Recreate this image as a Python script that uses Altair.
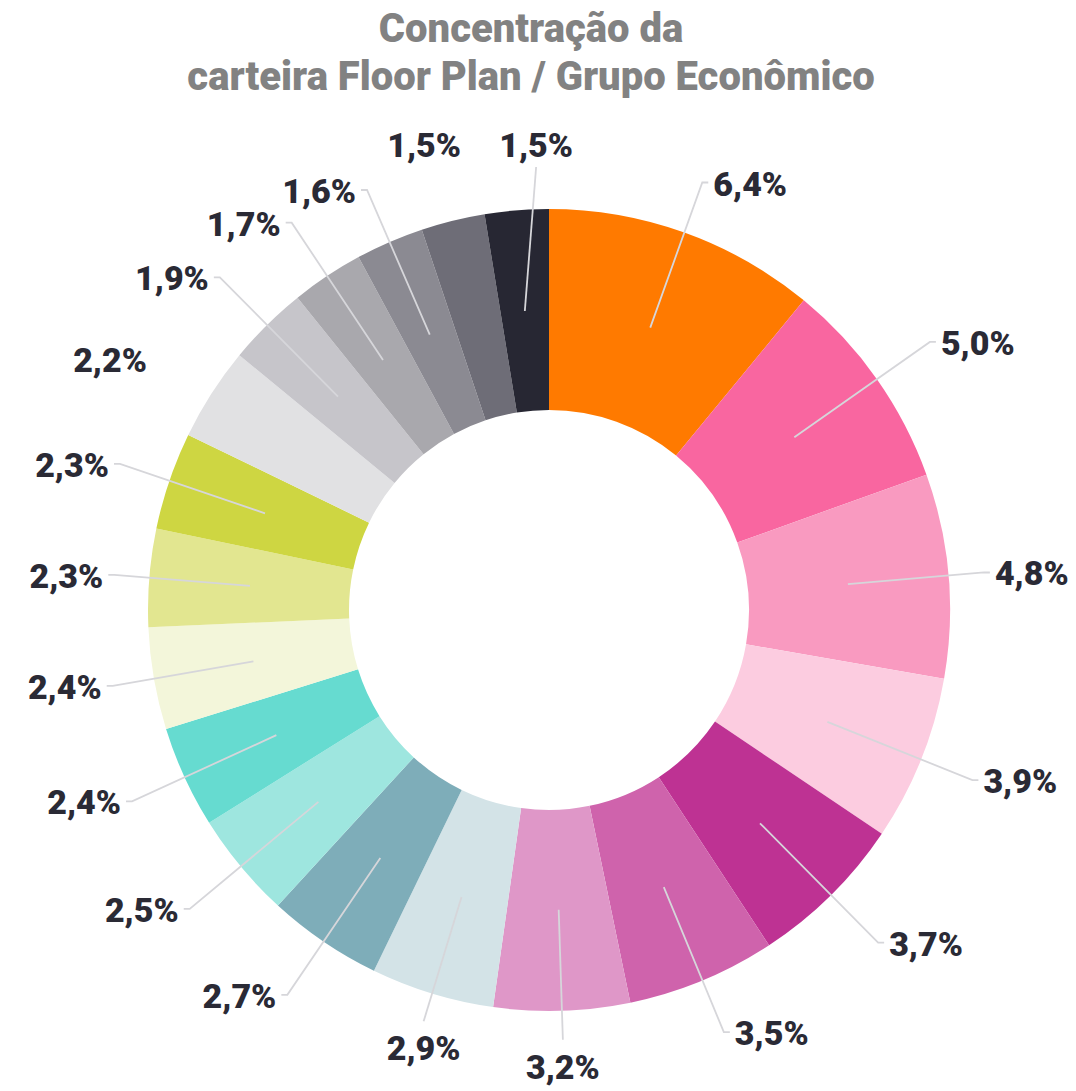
import numpy as np
import pandas as pd
import altair as alt

# ---------------- data ----------------
title_lines = ["Concentração da", "carteira Floor Plan / Grupo Econômico"]
values = [6.4, 5.0, 4.8, 3.9, 3.7, 3.5, 3.2, 2.9, 2.7, 2.5,
          2.4, 2.4, 2.3, 2.3, 2.2, 1.9, 1.7, 1.6, 1.5, 1.5]
labels = ["6,4%", "5,0%", "4,8%", "3,9%", "3,7%", "3,5%", "3,2%", "2,9%", "2,7%", "2,5%",
          "2,4%", "2,4%", "2,3%", "2,3%", "2,2%", "1,9%", "1,7%", "1,6%", "1,5%", "1,5%"]
colors = ["#FF7A00", "#F966A0", "#F99AC0", "#FCCCE0", "#BE3293", "#CF63AC", "#DF97C8",
          "#D3E3E7", "#7EADB9", "#9EE6DF", "#66DBD0", "#F3F6DA", "#E2E690", "#CED642",
          "#E1E1E3", "#C6C5CA", "#A9A8AD", "#8B8A92", "#6E6D77", "#272733"]
has_connector = [True] * 14 + [False, True, True, True, False, True]

# ---------------- layout constants ----------------
R_IN, R_OUT = 200, 401
R_START = 300
X_DOMAIN = [-541, 519]
Y_DOMAIN = [-480, 480]
W, H = 1060, 960
FONT = "Roboto, sans-serif"

keys = [f"s{i:02d}" for i in range(len(values))]
vals = np.array(values)
total = vals.sum()
start = (np.cumsum(vals) - vals) / total * 2 * np.pi
mid = start + vals / total * np.pi

slices = pd.DataFrame({"key": keys, "idx": range(len(values)), "value": values})

items = []
for i, m in enumerate(mid):
    s, c = np.sin(m), np.cos(m)
    it = {"i": i, "p0": (R_START * s, R_START * c)}
    if abs(s) < 0.3:
        re = 430
        it["pos"] = "top" if c > 0 else "bottom"
        it["ex"], it["ey"] = re * s, re * c
        it["lx"] = re * s
        if c > 0:
            it["ly"] = 453
            it["ey"] = 443
        else:
            it["ly"] = re * c - 12
    else:
        re = 430 + 38 * abs(np.sin(2 * m))
        sg = 1 if s > 0 else -1
        it["pos"] = "right" if s > 0 else "left"
        it["ex"], it["ey"] = re * s, re * c
        it["tx"] = it["ex"] + 6 * sg
        it["lx"], it["ly"] = it["tx"] + 5 * sg, it["ey"]
    items.append(it)

# spread apart centred labels of the same group so they do not overlap
MIN_GAP = 112
for grp in ("top", "bottom"):
    g = sorted([it for it in items if it["pos"] == grp], key=lambda d: d["lx"])
    for _ in range(20):
        for a, b in zip(g, g[1:]):
            d = MIN_GAP - (b["lx"] - a["lx"])
            if d > 0:
                a["lx"] -= d / 2
                b["lx"] += d / 2

line_rows, text_rows = [], []
for it in items:
    i = it["i"]
    if it["pos"] in ("top", "bottom"):
        pts = [it["p0"], (it["lx"], it["ey"])]
    else:
        pts = [it["p0"], (it["ex"], it["ey"]), (it["tx"], it["ey"])]
    if has_connector[i]:
        for j, (x, y) in enumerate(pts):
            line_rows.append({"key": keys[i], "seq": j, "x": x, "y": y})
    text_rows.append({"label": labels[i], "lx": it["lx"], "ly": it["ly"], "pos": it["pos"]})

lines = pd.DataFrame(line_rows)
texts = pd.DataFrame(text_rows)

xs = alt.Scale(domain=X_DOMAIN, nice=False, zero=False)
ys = alt.Scale(domain=Y_DOMAIN, nice=False, zero=False)

arcs = alt.Chart(slices).mark_arc(innerRadius=R_IN, outerRadius=R_OUT, strokeWidth=0).encode(
    theta=alt.Theta("value:Q", stack=True),
    order=alt.Order("idx:Q", sort="ascending"),
    color=alt.Color("key:N", scale=alt.Scale(domain=keys, range=colors), legend=None),
    x=alt.XDatum(0, type="quantitative", scale=xs, axis=None),
    y=alt.YDatum(0, type="quantitative", scale=ys, axis=None),
)

conn = alt.Chart(lines).mark_line(color="#D6D6DA", strokeWidth=1.8).encode(
    x=alt.X("x:Q", scale=xs, axis=None),
    y=alt.Y("y:Q", scale=ys, axis=None),
    detail="key:N",
    order="seq:Q",
)

def text_layer(pos, align, baseline, dy=0):
    return alt.Chart(texts).transform_filter(alt.datum.pos == pos).mark_text(
        align=align, baseline=baseline, font=FONT, fontSize=34, fontWeight=900,
        color="#2A2A35", dy=dy,
    ).encode(
        x=alt.X("lx:Q", scale=xs, axis=None),
        y=alt.Y("ly:Q", scale=ys, axis=None),
        text="label:N",
    )

chart = alt.layer(
    arcs, conn,
    text_layer("right", "left", "middle", 3),
    text_layer("left", "right", "middle", 3),
    text_layer("bottom", "center", "top"),
    text_layer("top", "center", "alphabetic"),
).properties(
    width=W, height=H,
    autosize="none",
    padding={"left": 0, "top": 122, "right": 0, "bottom": 0},
    title=alt.TitleParams(
        text=title_lines, font=FONT, fontSize=40, fontWeight=900, color="#828282",
        lineHeight=48, anchor="middle", dx=-7, baseline="alphabetic", offset=0,
    ),
).configure_view(stroke=None)

chart.save("out.html", embed_options={"renderer": "svg", "actions": False})
